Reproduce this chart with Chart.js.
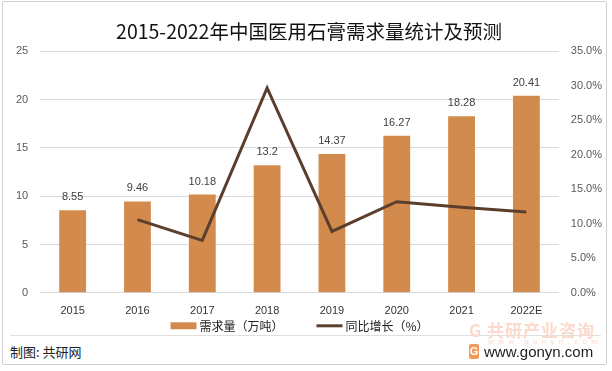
<!DOCTYPE html>
<html>
<head>
<meta charset="utf-8">
<script src="https://cdn.jsdelivr.net/npm/chart.js@4"></script>
<style>
  html, body { margin: 0; padding: 0; background: #fff; }
  .page { position: relative; width: 612px; height: 371px; overflow: hidden;
    font-family: "Noto Sans CJK SC", sans-serif; }
  .frame { position: absolute; left: 2px; top: 1px; width: 603px; height: 362px;
    border: 1px solid #d0d0d0; border-radius: 2px; }
  .chart-box { position: absolute; left: 0; top: 0; width: 612px; height: 340px; }
  .sep { position: absolute; left: 10px; top: 335px; width: 591px; height: 1px; background: #e0e0e0; }
  .source { position: absolute; left: 10px; top: 343px; font-size: 13px; line-height: 18px; color: #222; }
  .mark { position: absolute; left: 469px; top: 320px; font-size: 17px; line-height: 20px; font-weight: bold; color: #fbd9cc; letter-spacing: 1px; }
  .mark2 { position: absolute; left: 488px; top: 337px; font-size: 8px; line-height: 10px; color: #fbd9cc; letter-spacing: 4.3px;
    font-family: "Liberation Sans", sans-serif; }
  .site { position: absolute; left: 484px; top: 343px; font-size: 15px; line-height: 18px; color: #222;
    font-family: "Liberation Sans", sans-serif; }
  .logo { position: absolute; left: 469px; top: 344px; width: 10px; height: 15px; background: #f19a5a; border-radius: 2px;
    color: #fff; font: bold 11px/15px "Liberation Sans", sans-serif; text-align: center; }
</style>
</head>
<body>
<div class="page">
  <div class="frame"></div>
  <div class="chart-box"><canvas id="c"></canvas></div>
  <div class="sep"></div>
  <div class="mark">G 共研产业咨询</div>
  <div class="mark2">www.gonyn.com</div>
  <div class="logo">G</div>
  <div class="source">制图: 共研网</div>
  <div class="site">www.gonyn.com</div>
</div>
<script>
// 데이터
const years = ['2015', '2016', '2017', '2018', '2019', '2020', '2021', '2022E'];
const demand = [8.55, 9.46, 10.18, 13.2, 14.37, 16.27, 18.28, 20.41];
const growth = [null, 10.6, 7.6, 29.7, 8.9, 13.2, 12.4, 11.7];
const leftTicks = [0, 5, 10, 15, 20, 25];
const rightTicks = [0, 5, 10, 15, 20, 25, 30, 35];

const barColor = '#d38b4d';
const lineColor = '#5b3f2c';

// 막대 위 숫자 표시
const barLabels = {
  id: 'barLabels',
  afterDatasetsDraw(chart) {
    const ctx = chart.ctx;
    const meta = chart.getDatasetMeta(0);
    ctx.save();
    ctx.font = '11px "Liberation Sans", sans-serif';
    ctx.fillStyle = '#404040';
    ctx.textAlign = 'center';
    ctx.textBaseline = 'middle';
    meta.data.forEach((bar, i) => {
      ctx.fillText(String(demand[i]), bar.x, bar.y - 13);
    });
    ctx.restore();
  }
};

// 하단 범례
const bottomLegend = {
  id: 'bottomLegend',
  afterDraw(chart) {
    const ctx = chart.ctx;
    const area = chart.chartArea;
    const y = area.bottom + 33;
    ctx.save();
    ctx.font = '12px "Noto Sans CJK SC", sans-serif';
    ctx.textBaseline = 'middle';
    const items = chart.data.datasets.map(d => ({ text: d.label, type: d.type }));
    const boxW = 26, gap = 3, space = 33;
    const widths = items.map(it => boxW + gap + ctx.measureText(it.text).width);
    const total = widths.reduce((a, b) => a + b, 0) + space * (items.length - 1);
    let x = (area.left + area.right) / 2 - total / 2;
    items.forEach((it, i) => {
      if (it.type === 'bar') {
        ctx.fillStyle = barColor;
        ctx.fillRect(x, y - 3.5, boxW, 7);
      } else {
        ctx.strokeStyle = lineColor;
        ctx.lineWidth = 3;
        ctx.beginPath();
        ctx.moveTo(x, y);
        ctx.lineTo(x + boxW, y);
        ctx.stroke();
      }
      ctx.fillStyle = '#222';
      ctx.fillText(it.text, x + boxW + gap, y + 1);
      x += widths[i] + space;
    });
    ctx.restore();
  }
};

new Chart(document.getElementById('c'), {
  data: {
    labels: years,
    datasets: [
      {
        type: 'bar', label: '需求量（万吨）', data: demand, yAxisID: 'y',
        backgroundColor: barColor, barPercentage: 0.414, categoryPercentage: 1, order: 2
      },
      {
        type: 'line', label: '同比增长（%）', data: growth, yAxisID: 'y1',
        borderColor: lineColor, backgroundColor: lineColor, borderWidth: 3,
        pointRadius: 0, tension: 0, order: 1
      }
    ]
  },
  options: {
    responsive: true, maintainAspectRatio: false, animation: false,
    layout: { padding: { left: 4, right: -2, top: 0, bottom: 10 } },
    plugins: {
      title: {
        display: true, text: '2015-2022年中国医用石膏需求量统计及预测',
        color: '#111', font: { size: 19.5, family: '"Noto Sans CJK SC", sans-serif', weight: 'normal', lineHeight: 1.2 },
        padding: { top: 20, bottom: 8 }
      },
      legend: { display: false },
      tooltip: { enabled: false }
    },
    scales: {
      x: {
        grid: { display: false, drawTicks: false },
        border: { color: '#d9d9d9' },
        ticks: { color: '#333', font: { size: 11, family: '"Liberation Sans", sans-serif' }, padding: 12 }
      },
      y: {
        position: 'left', min: 0, max: 25,
        afterBuildTicks(axis) { axis.ticks = leftTicks.map(v => ({ value: v })); },
        grid: { color: '#d9d9d9', drawTicks: false },
        border: { display: false },
        ticks: { color: '#595959', font: { size: 11, family: '"Liberation Sans", sans-serif' }, padding: 12 }
      },
      y1: {
        position: 'right', min: 0, max: 35,
        afterBuildTicks(axis) { axis.ticks = rightTicks.map(v => ({ value: v })); },
        grid: { display: false, drawTicks: false },
        border: { display: false },
        ticks: {
          color: '#595959', font: { size: 11, family: '"Liberation Sans", sans-serif' }, padding: 12,
          callback: v => v.toFixed(1) + '%'
        }
      }
    }
  },
  plugins: [barLabels, bottomLegend]
});
</script>
</body>
</html>
